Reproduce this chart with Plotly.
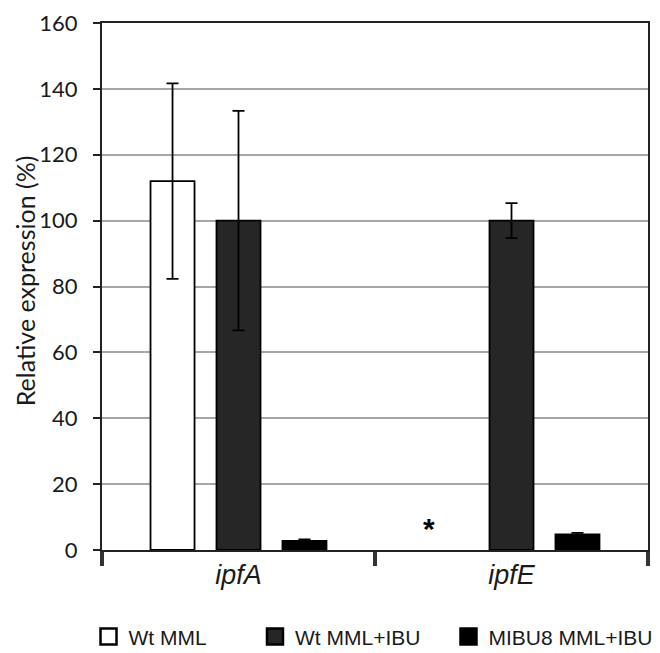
import plotly.graph_objects as go

categories = ["ipfA", "ipfE"]
series_names = ["Wt MML", "Wt MML+IBU", "MIBU8 MML+IBU"]
wt_mml = [112.0, None]
wt_mml_err = [29.7, None]
wt_mml_ibu = [100.0, 100.0]
wt_mml_ibu_err = [33.3, 5.3]
mibu8_mml_ibu = [2.8, 4.7]
mibu8_mml_ibu_err = [0.4, 0.5]
y_ticks = [0, 20, 40, 60, 80, 100, 120, 140, 160]

fills = ["#ffffff", "#262626", "#000000"]
values = [wt_mml, wt_mml_ibu, mibu8_mml_ibu]
errors = [wt_mml_err, wt_mml_ibu_err, mibu8_mml_ibu_err]
legend_ids = ["legend", "legend2", "legend3"]
legend_x = [-0.0247, 0.2802, 0.6346]

x_labels = [f"<i>{c}</i>" for c in categories]

fig = go.Figure()
for name, vals, errs, col in zip(series_names, values, errors, fills):
    fig.add_trace(go.Bar(
        x=x_labels, y=vals, name=name, showlegend=False,
        marker=dict(color=col, line=dict(color="#000000", width=1.8)),
        error_y=dict(type="data", array=errs, visible=True,
                     color="#000000", thickness=1.8, width=6),
    ))

# legend entries, one legend box per series so each can be placed freely
for name, col, lid in zip(series_names, fills, legend_ids):
    fig.add_trace(go.Scatter(
        x=[None], y=[None], mode="markers", name=name, legend=lid,
        marker=dict(symbol="square", size=24, color=col,
                    line=dict(color="#000000", width=2.5)),
    ))

fig.add_annotation(x=x_labels[1], y=6.6, xref="x", yref="y", text="<b>*</b>",
                   showarrow=False, xshift=-83,
                   font=dict(size=30, color="#000000", family="Liberation Sans"))

fig.add_annotation(x=-0.141, y=0.51, xref="paper", yref="paper",
                   text="Relative expression (%)", textangle=-90, showarrow=False,
                   xanchor="center", yanchor="middle",
                   font=dict(size=25, color="#1a1a1a", family="Lato"))

legend_style = dict(orientation="h", xanchor="left", y=-0.165, yanchor="middle",
                    font=dict(size=21, color="#1a1a1a", family="Liberation Sans"),
                    itemsizing="trace", itemwidth=30, bgcolor="rgba(0,0,0,0)")

fig.update_layout(
    width=652, height=645,
    margin=dict(l=94, r=12, t=15, b=103, autoexpand=False),
    paper_bgcolor="#ffffff", plot_bgcolor="#ffffff",
    barmode="group", bargap=0.275, bargroupgap=0.333,
    font=dict(family="Lato", color="#1a1a1a"),
    legend=dict(x=legend_x[0], **legend_style),
    legend2=dict(x=legend_x[1], **legend_style),
    legend3=dict(x=legend_x[2], **legend_style),
    xaxis=dict(
        showline=True, linecolor="#222222", linewidth=2, mirror=True,
        ticks="outside", tickson="boundaries", ticklen=14, tickwidth=3.5,
        tickcolor="#333333",
        tickfont=dict(size=27, color="#1a1a1a", family="Liberation Sans"),
        showgrid=False, automargin=False,
    ),
    yaxis=dict(
        range=[0, 160], tickvals=y_ticks, automargin=False,
        ticklabeloverflow="allow",
        showline=True, linecolor="#222222", linewidth=2, mirror=True,
        ticks="outside", ticklen=7, tickwidth=2, tickcolor="#222222",
        tickfont=dict(size=22, color="#1a1a1a"), ticklabelstandoff=11,
        showgrid=True, gridcolor="#a6a6a6", gridwidth=1.5,
        zeroline=False,
    ),
)

fig.write_html("out.html")
